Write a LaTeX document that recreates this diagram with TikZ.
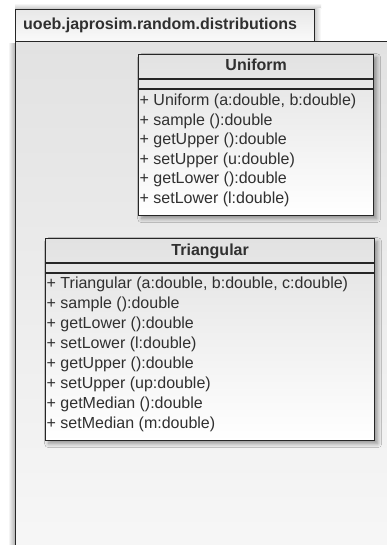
\documentclass[tikz,border=0pt]{standalone}
\usepackage{fontspec}
\setmainfont{Liberation Sans}
\usepackage{tikz}
\usetikzlibrary{positioning}
\usetikzlibrary{shadows.blur}

\definecolor{umlline}{HTML}{262626}
\definecolor{umltext}{HTML}{303030}
\definecolor{umlfill}{HTML}{E2E2E2}
\definecolor{pkgfill}{HTML}{E2E2E2}

\tikzset{
    umlshadow/.style = {blur shadow = {shadow xshift = 3pt, shadow yshift = -3pt,
        shadow blur steps = 8, shadow blur radius = 4pt, shadow opacity = 40}},
    classbox/.style = {draw = umlline, line width = 1.3pt, top color = umlfill,
        bottom color = white, anchor = north west, inner sep = 0, umlshadow},
    pkgbox/.style = {draw = umlline, line width = 1.4pt, top color = pkgfill,
        bottom color = white!97!black, anchor = north west, inner sep = 0},
    sepline/.style = {draw = umlline, line width = 1.1pt},
    classname/.style = {font = \fontsize{16}{19}\selectfont\bfseries, text = umltext,
        inner sep = 0, text height = 12pt, text depth = 3pt},
    opline/.style = {font = \fontsize{16}{19}\selectfont, text = umltext, inner sep = 0,
        anchor = base west},
}

\begin{document}
\begin{tikzpicture}[x = 1pt, y = -1pt]
    \useasboundingbox (0, 0) rectangle (387, 545);
    \clip (0, 0) rectangle (387, 545);
    \fill[white] (0, 0) rectangle (387, 545);

    %% package (soft shadow at left and above the tab)
    \shade[left color = white, right color = black!30] (8, 44) rectangle (15, 545);
    \shade[top color = white, bottom color = black!22] (15, 3) rectangle (321, 9);
    \shade[left color = black!22, right color = white] (314, 9) rectangle (321, 41);
    \node[pkgbox, minimum width = 385pt, minimum height = 525pt] (pkgbody) at (15, 41) {};
    \node[pkgbox, top color = white!91!black, bottom color = white!98!black,
        minimum width = 299pt, minimum height = 32pt] (pkgtab) at (15, 9) {};
    \node[opline, font = \fontsize{16}{19}\selectfont\bfseries] (pkgname) at (23, 30)
        {uoeb.japrosim.random.distributions};

    %% class Uniform
    \node[classbox, minimum width = 235pt, minimum height = 161pt] (uniform) at (138, 54) {};
    \draw[sepline] ([yshift = -25pt]uniform.north west) -- ([yshift = -25pt]uniform.north east);
    \draw[sepline] ([yshift = -35pt]uniform.north west) -- ([yshift = -35pt]uniform.north east);
    \node[classname] (uniformname) at ([yshift = -12.5pt]uniform.north) {Uniform};
    \foreach \op [count = \i] in {{+ Uniform (a:double, b:double)}, {+ sample ():double},
        {+ getUpper ():double}, {+ setUpper (u:double)}, {+ getLower ():double},
        {+ setLower (l:double)}}
        \node[opline] (uniformop\i) at (139.5, 105.5 + 19.6*\i - 19.6) {\op};

    %% class Triangular
    \node[classbox, minimum width = 329pt, minimum height = 202pt] (triangular) at (45, 238) {};
    \draw[sepline] ([yshift = -25pt]triangular.north west) -- ([yshift = -25pt]triangular.north east);
    \draw[sepline] ([yshift = -35pt]triangular.north west) -- ([yshift = -35pt]triangular.north east);
    \node[classname] (triangularname) at ([yshift = -12.5pt]triangular.north) {Triangular};
    \foreach \op [count = \i] in {{+ Triangular (a:double, b:double, c:double)},
        {+ sample ():double}, {+ getLower ():double}, {+ setLower (l:double)},
        {+ getUpper ():double}, {+ setUpper (up:double)}, {+ getMedian ():double},
        {+ setMedian (m:double)}}
        \node[opline] (triangularop\i) at (46.5, 288.5 + 20*\i - 20) {\op};
\end{tikzpicture}
\end{document}
